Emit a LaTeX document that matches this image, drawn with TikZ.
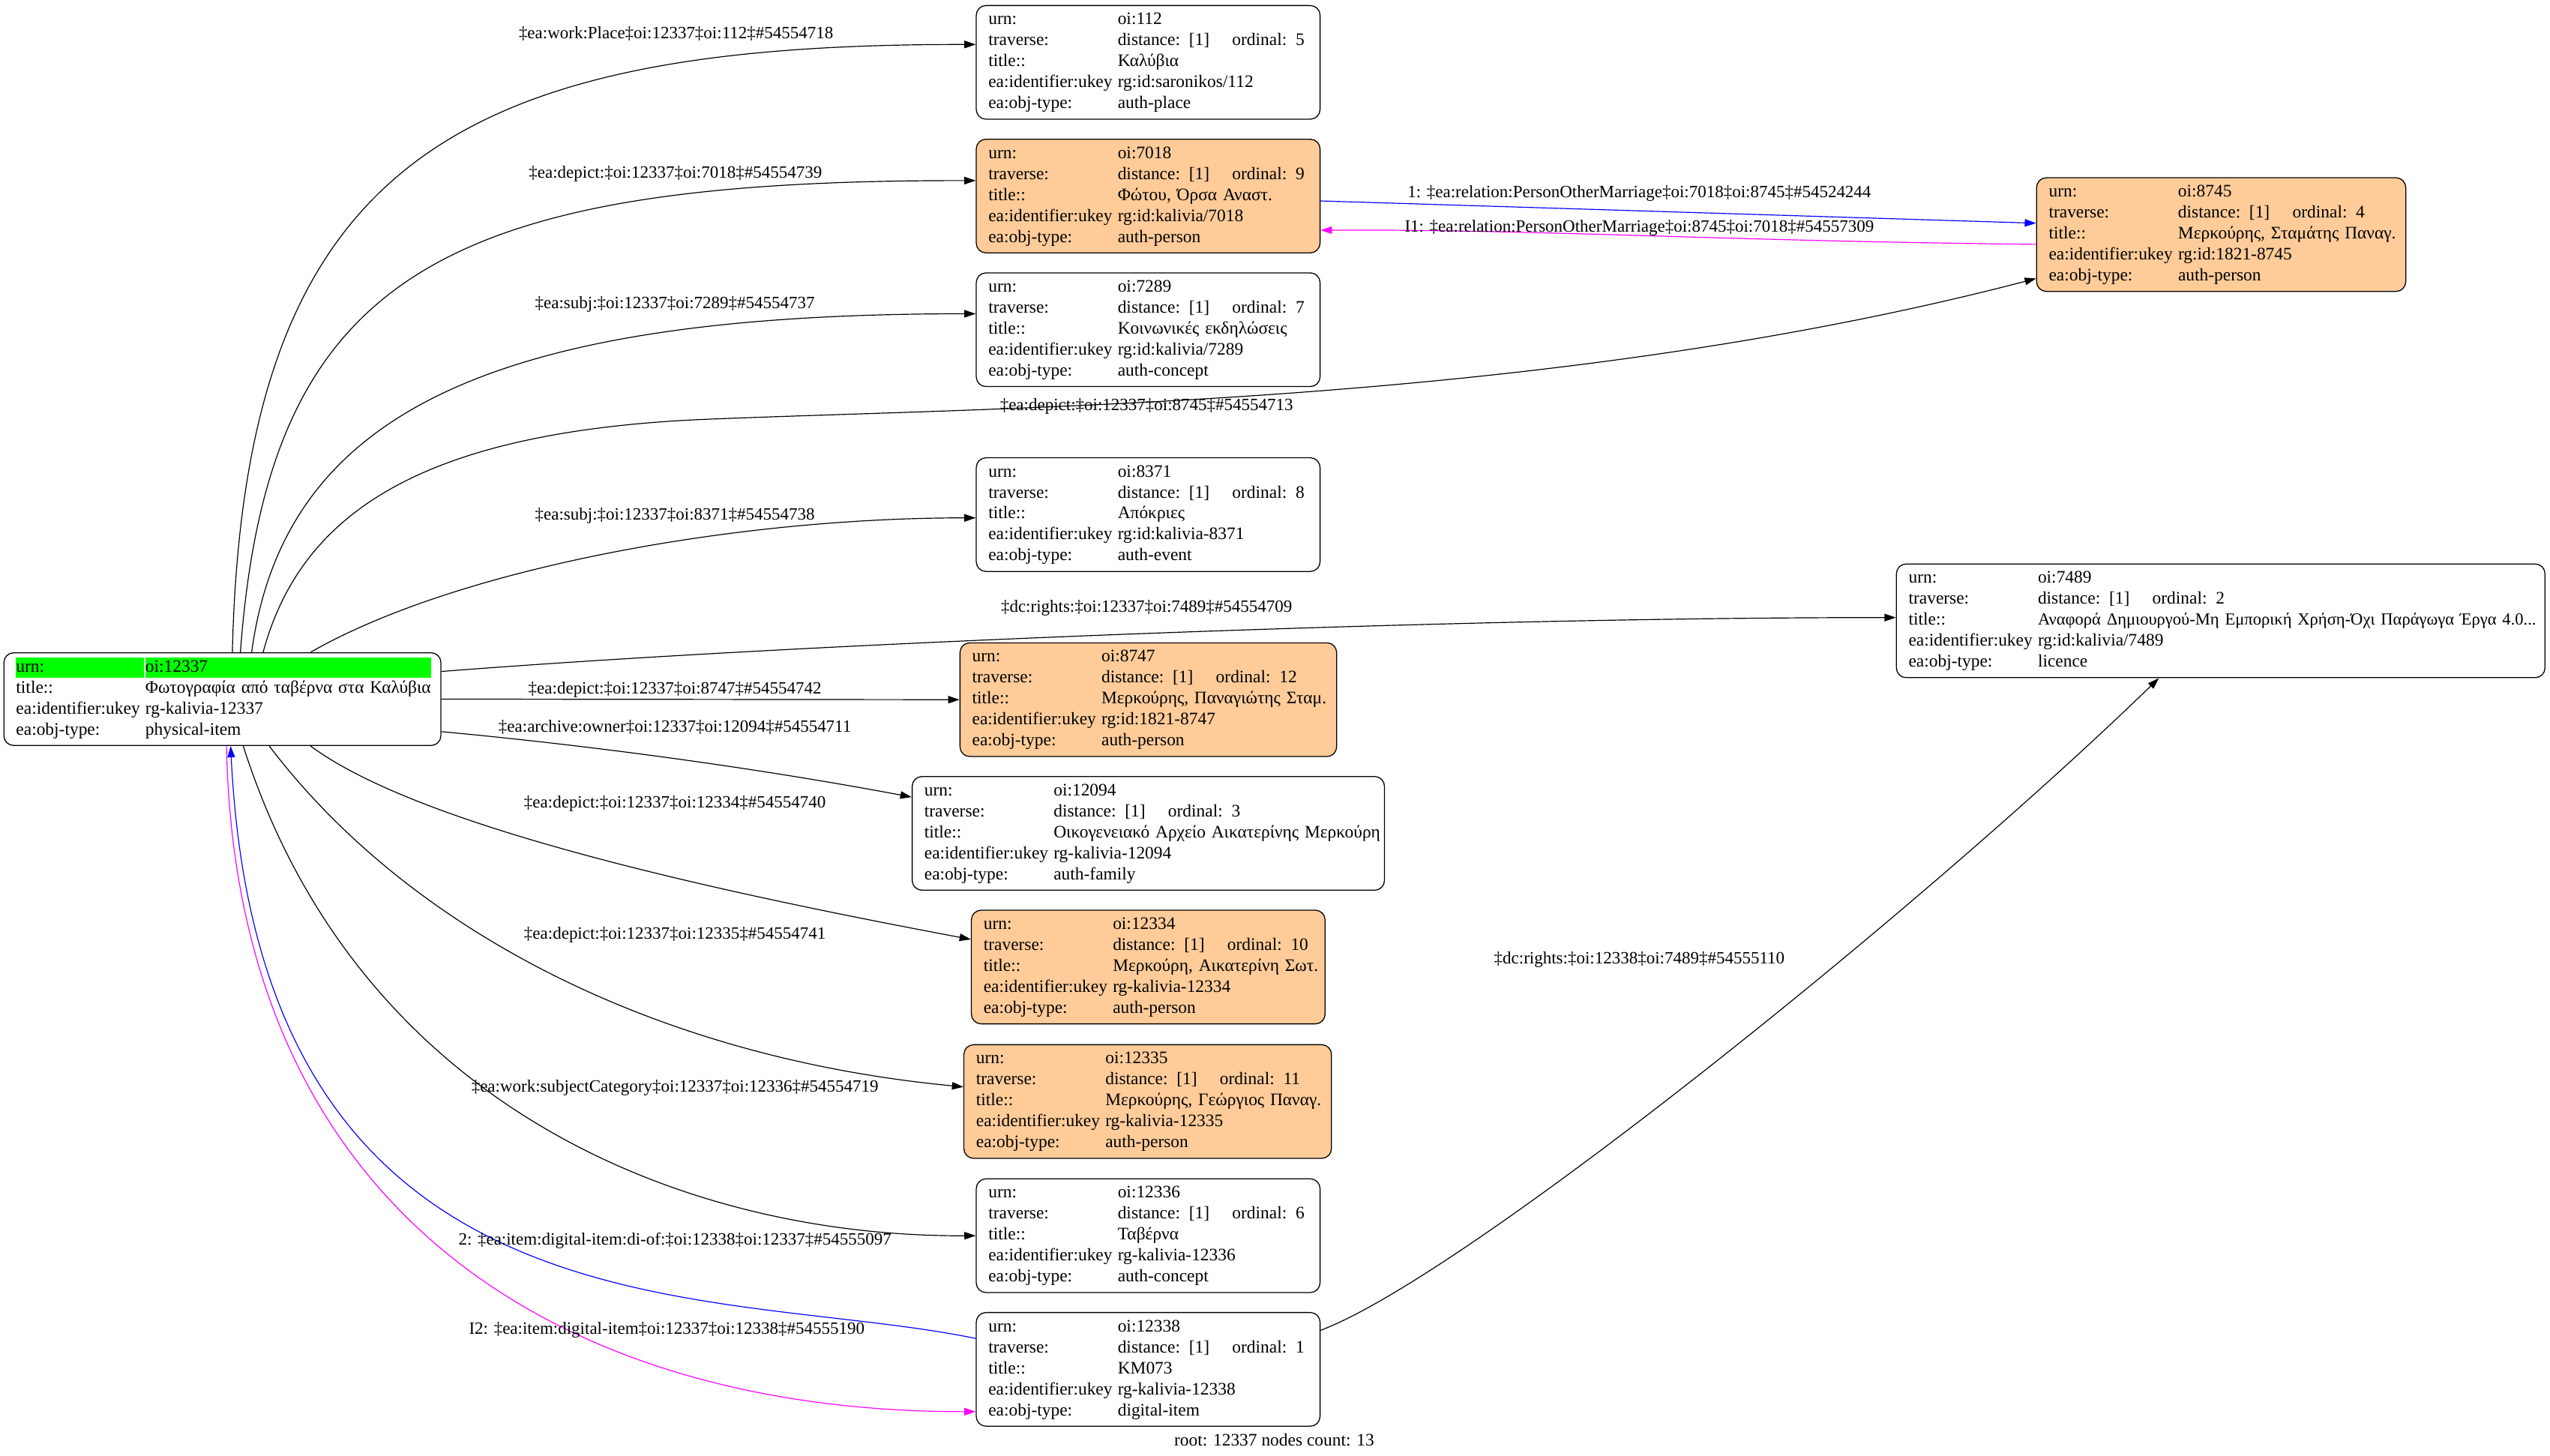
\documentclass[tikz,border=0pt]{standalone}
\usepackage{fontspec}
\setmainfont{Liberation Serif}
\usepackage{colortbl}
\usetikzlibrary{positioning, shapes, arrows.meta}

\definecolor{personfill}{HTML}{FFCC99}
\definecolor{urngreen}{HTML}{00FF00}
\definecolor{linkblue}{HTML}{0000FF}
\definecolor{linkmagenta}{HTML}{FF00FF}

\newcommand{\recfont}{\fontsize{10.8}{12.9}\selectfont}
\newcommand{\lblfont}{\fontsize{10.6}{12.5}\selectfont}
% urn, ordinal, title, ukey, type
\newcommand{\recrows}[5]{%
\begin{tabular}{@{}p{79.5pt}@{}l@{}}
urn: & #1\\
traverse: & distance: [1]\hspace{14pt}ordinal: #2\\
title:: & #3\\
ea:identifier:ukey & #4\\
ea:obj-type: & #5
\end{tabular}}

\tikzset{
  rec/.style={draw, line width=0.6pt, rounded corners=6pt, anchor=north west,
    inner xsep=7.5pt, inner ysep=2.7pt, align=left, font=\recfont},
  person/.style={rec, fill=personfill},
  lbl/.style={font=\lblfont, inner sep=0pt},
  link/.style={line width=0.55pt, -{Triangle[length=7pt,width=4.6pt]}}
}

\begin{document}
\begin{tikzpicture}[x=1pt, y=-1pt]
        \useasboundingbox (0,0) rectangle (1568,895);

        % root item
        \node[rec, text width=253.7pt] (root) at (2.1,401.1) {%
        \setlength{\tabcolsep}{0pt}%
        \begin{tabular}{p{78.5pt}!{\color{white}\vrule width 1pt}l}
        \cellcolor{urngreen}urn: & \cellcolor{urngreen}oi:12337\\
        title:: & Φωτογραφία από ταβέρνα στα Καλύβια\\
        ea:identifier:ukey & rg-kalivia-12337\\
        ea:obj-type: & physical-item
        \end{tabular}};

        % first column
        \node[rec, text width=196.4pt] (n112) at (600,3.1)
          {\recrows{oi:112}{5}{Καλύβια}{rg:id:saronikos/112}{auth-place}};
        \node[person, text width=196.4pt] (n7018) at (600,85.3)
          {\recrows{oi:7018}{9}{Φώτου, Όρσα Αναστ.}{rg:id:kalivia/7018}{auth-person}};
        \node[rec, text width=196.4pt] (n7289) at (600,167.5)
          {\recrows{oi:7289}{7}{Κοινωνικές εκδηλώσεις}{rg:id:kalivia/7289}{auth-concept}};
        \node[rec, text width=196.4pt] (n8371) at (600,281.2)
          {\recrows{oi:8371}{8}{Απόκριες}{rg:id:kalivia-8371}{auth-event}};
        \node[person, text width=216.6pt] (n8747) at (590,395)
          {\recrows{oi:8747}{12}{Μερκούρης, Παναγιώτης Σταμ.}{rg:id:1821-8747}{auth-person}};
        \node[rec, text width=275.4pt] (n12094) at (560.6,477.2)
          {\recrows{oi:12094}{3}{Οικογενειακό Αρχείο Αικατερίνης Μερκούρη}{rg-kalivia-12094}{auth-family}};
        \node[person, text width=202.5pt] (n12334) at (597,559.4)
          {\recrows{oi:12334}{10}{Μερκούρη, Αικατερίνη Σωτ.}{rg-kalivia-12334}{auth-person}};
        \node[person, text width=211pt] (n12335) at (592.4,642.1)
          {\recrows{oi:12335}{11}{Μερκούρης, Γεώργιος Παναγ.}{rg-kalivia-12335}{auth-person}};
        \node[rec, text width=196.4pt] (n12336) at (600,724.6)
          {\recrows{oi:12336}{6}{Ταβέρνα}{rg-kalivia-12336}{auth-concept}};
        \node[rec, text width=196.4pt] (n12338) at (600,806.8)
          {\recrows{oi:12338}{1}{KM073}{rg-kalivia-12338}{digital-item}};

        % second column
        \node[person, text width=212pt] (n8745) at (1252,109)
          {\recrows{oi:8745}{4}{Μερκούρης, Σταμάτης Παναγ.}{rg:id:1821-8745}{auth-person}};
        \node[rec, text width=383.8pt] (n7489) at (1165.8,346.5)
          {\recrows{oi:7489}{2}{{\fontsize{10.4}{12.9}\selectfont Αναφορά Δημιουργού-Μη Εμπορική Χρήση-Όχι Παράγωγα Έργα 4.0...}}{rg:id:kalivia/7489}{licence}};

        \node[lbl, font=\recfont] (caption) at (783.5,885.2) {root: 12337 nodes count: 13};

        % links from the root
        \draw[link] (root.78) .. controls (150,100) and (280,27) .. ([yshift=11pt]n112.west);
        \draw[link] (root.69) .. controls (165,170) and (270,110.7) .. ([yshift=9.5pt]n7018.west);
        \draw[link] (root.58) .. controls (175,250) and (310,192.9) .. ([yshift=9.8pt]n7289.west);
        \draw[link] (root.49) .. controls (185,315) and (260,266) .. (430,258)
          .. controls (620,250) and (950,250) .. ([yshift=-27pt]n8745.west);
        \draw[link] (root.28) .. controls (280,350) and (450,318.4) .. ([yshift=-2pt]n8371.west);
        \draw[link] ([yshift=17pt]root.east) .. controls (500,395) and (900,379.6) .. ([yshift=2pt]n7489.west);
        \draw[link] (root.east) -- (n8747.west);
        \draw[link] ([yshift=-20pt]root.east) .. controls (380,460) and (480,475) .. ([yshift=22.3pt]n12094.west);
        \draw[link] (root.-28) .. controls (260,510) and (450,550) .. ([yshift=17pt]n12334.west);
        \draw[link] (root.-45) .. controls (250,570) and (400,650) .. ([yshift=9pt]n12335.west);
        \draw[link] (root.-66) .. controls (220,680) and (420,760.7) .. (n12336.west);
        \draw[link, linkmagenta] (root.-85) .. controls (145,750) and (350,868.3) .. ([yshift=-26pt]n12338.west);
        \draw[link, linkblue] ([yshift=19pt]n12338.west) .. controls (440,790) and (160,830) .. (root.-80);

        % links between the others
        \draw[link, linkblue] ([yshift=-3pt]n7018.east) -- ([yshift=7pt]n8745.west);
        \draw[link, linkmagenta] ([yshift=-6pt]n8745.west) .. controls (1050,148) and (950,141) .. ([yshift=-21pt]n7018.east);
        \draw[link] ([yshift=24pt]n12338.east) .. controls (900,785) and (1180,560) .. ([xshift=-38pt]n7489.south);

        % link labels
        \node[lbl] (l112) at (415.7,20.7) {‡ea:work:Place‡oi:12337‡oi:112‡\#54554718};
        \node[lbl] (l7018) at (415.3,106.8) {‡ea:depict:‡oi:12337‡oi:7018‡\#54554739};
        \node[lbl] (l7289) at (415,187) {‡ea:subj:‡oi:12337‡oi:7289‡\#54554737};
        \node[lbl] (l8745) at (705,250) {‡ea:depict:‡oi:12337‡oi:8745‡\#54554713};
        \node[lbl] (l8371) at (415,317) {‡ea:subj:‡oi:12337‡oi:8371‡\#54554738};
        \node[lbl] (l7489) at (705,374) {‡dc:rights:‡oi:12337‡oi:7489‡\#54554709};
        \node[lbl] (l8747) at (415,424) {‡ea:depict:‡oi:12337‡oi:8747‡\#54554742};
        \node[lbl] (l12094) at (415,447) {‡ea:archive:owner‡oi:12337‡oi:12094‡\#54554711};
        \node[lbl] (l12334) at (415,494) {‡ea:depict:‡oi:12337‡oi:12334‡\#54554740};
        \node[lbl] (l12335) at (415,575) {‡ea:depict:‡oi:12337‡oi:12335‡\#54554741};
        \node[lbl] (l12336) at (415,669) {‡ea:work:subjectCategory‡oi:12337‡oi:12336‡\#54554719};
        \node[lbl] (l12338b) at (415,763) {2: ‡ea:item:digital-item:di-of:‡oi:12338‡oi:12337‡\#54555097};
        \node[lbl] (l12338m) at (410,818) {I2: ‡ea:item:digital-item‡oi:12337‡oi:12338‡\#54555190};
        \node[lbl] (lmarr) at (1008,119) {1: ‡ea:relation:PersonOtherMarriage‡oi:7018‡oi:8745‡\#54524244};
        \node[lbl] (lmarrb) at (1008,140) {I1: ‡ea:relation:PersonOtherMarriage‡oi:8745‡oi:7018‡\#54557309};
        \node[lbl] (lrights) at (1008,590) {‡dc:rights:‡oi:12338‡oi:7489‡\#54555110};

    \end{tikzpicture}
\end{document}
